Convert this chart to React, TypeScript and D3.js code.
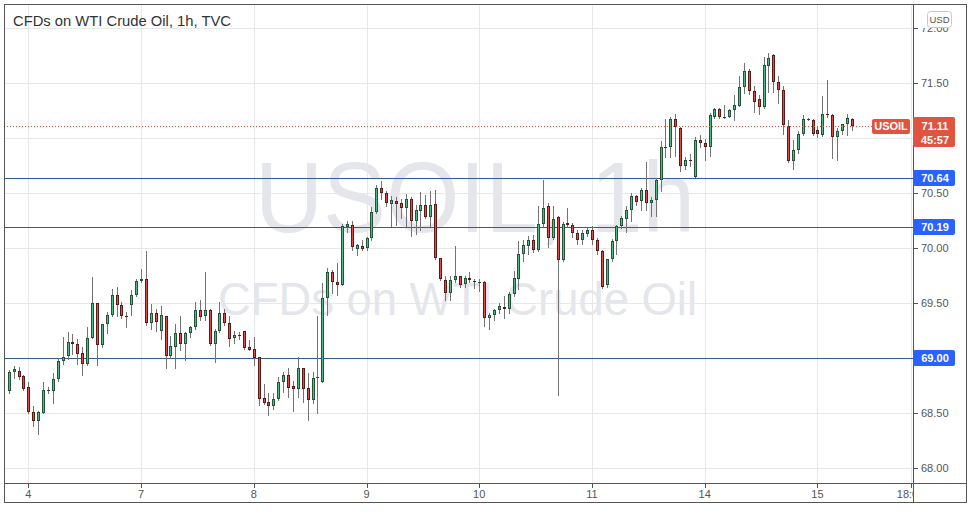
import { useEffect, useRef } from "react";
import * as d3 from "d3";

// hourly candles (index 0 = first visible bar)
const opens = [
  68.70, 68.87, 68.88, 68.84, 68.74, 68.51, 68.43, 68.50, 68.71, 68.70,
  68.81, 68.97, 69.02, 69.15, 69.13, 69.05, 68.95, 69.18, 69.50, 69.12,
  69.31, 69.39, 69.57, 69.48, 69.38, 69.48, 69.57, 69.70, 69.72, 69.32,
  69.41, 69.25, 69.38, 69.02, 69.10, 69.23, 69.13, 69.23, 69.28, 69.44,
  69.38, 69.44, 69.13, 69.25, 69.41, 69.32, 69.18, 69.21, 69.25, 69.10,
  69.08, 69.01, 68.64, 68.60, 68.56, 68.63, 68.78, 68.85, 68.75, 68.72,
  68.91, 68.73, 68.62, 68.83, 68.78, 69.55, 69.78, 69.69, 69.66, 70.19,
  70.21, 69.99, 70.02, 70.00, 70.09, 70.33, 70.55, 70.50, 70.40, 70.43,
  70.41, 70.36, 70.45, 70.25, 70.34, 70.39, 70.28, 70.40, 69.91, 69.71,
  69.59, 69.71, 69.75, 69.67, 69.73, 69.70, 69.69, 69.69, 69.36, 69.39,
  69.44, 69.46, 69.45, 69.58, 69.72, 69.95, 70.02, 70.07, 69.98, 70.22,
  70.38, 70.09, 70.28, 69.89, 70.23, 70.21, 70.14, 70.07, 70.13, 70.16,
  70.07, 69.97, 69.66, 69.90, 70.06, 70.20, 70.26, 70.35, 70.47, 70.43,
  70.53, 70.41, 70.44, 70.62, 70.92, 70.92, 71.17, 71.09, 70.75, 70.80,
  70.65, 70.98, 70.95, 70.92, 71.19, 71.26, 71.19, 71.19, 71.25, 71.29,
  71.46, 71.61, 71.43, 71.35, 71.28, 71.65, 71.75, 71.51, 71.44, 71.11,
  70.79, 70.89, 71.04, 71.17, 71.16, 71.07, 71.03, 71.22, 71.21, 71.01,
  71.06, 71.13, 71.17,
];
const highs = [
  68.89, 68.93, 68.92, 68.85, 68.78, 68.56, 68.52, 68.78, 68.74, 68.86,
  69.00, 69.19, 69.24, 69.22, 69.17, 69.10, 69.28, 69.74, 69.50, 69.31,
  69.42, 69.63, 69.65, 69.51, 69.42, 69.62, 69.72, 69.81, 69.97, 69.49,
  69.45, 69.47, 69.38, 69.20, 69.31, 69.38, 69.24, 69.29, 69.51, 69.53,
  69.78, 69.45, 69.26, 69.51, 69.45, 69.38, 69.25, 69.24, 69.25, 69.16,
  69.19, 69.01, 68.76, 68.68, 68.68, 68.83, 68.87, 68.91, 68.79, 69.01,
  68.91, 68.86, 68.87, 69.38, 69.68, 69.82, 69.80, 69.86, 70.22, 70.25,
  70.25, 70.04, 70.07, 70.10, 70.37, 70.57, 70.61, 70.52, 70.47, 70.46,
  70.45, 70.49, 70.46, 70.39, 70.51, 70.48, 70.52, 70.53, 69.91, 69.75,
  69.75, 70.02, 69.75, 69.75, 69.78, 69.72, 69.72, 69.70, 69.41, 69.45,
  69.50, 69.56, 69.60, 69.79, 70.06, 70.07, 70.11, 70.12, 70.38, 70.62,
  70.41, 70.38, 70.29, 70.24, 70.36, 70.23, 70.16, 70.16, 70.19, 70.20,
  70.09, 69.98, 69.90, 70.08, 70.21, 70.29, 70.38, 70.50, 70.48, 70.55,
  70.78, 70.46, 70.64, 70.97, 71.17, 71.19, 71.22, 71.10, 70.83, 70.85,
  71.01, 71.03, 70.99, 71.23, 71.27, 71.27, 71.30, 71.26, 71.39, 71.56,
  71.68, 71.63, 71.47, 71.39, 71.74, 71.77, 71.76, 71.56, 71.47, 71.16,
  70.98, 71.06, 71.21, 71.18, 71.17, 71.10, 71.38, 71.53, 71.22, 71.09,
  71.13, 71.22, 71.18,
];
const lows = [
  68.68, 68.82, 68.81, 68.71, 68.50, 68.38, 68.31, 68.50, 68.68, 68.59,
  68.79, 68.95, 68.99, 69.04, 68.95, 68.85, 68.94, 69.18, 68.94, 69.10,
  69.23, 69.38, 69.38, 69.36, 69.28, 69.39, 69.56, 69.69, 69.30, 69.26,
  69.25, 69.17, 68.91, 69.00, 68.91, 69.07, 68.98, 69.19, 69.26, 69.35,
  69.35, 69.12, 68.96, 69.24, 69.30, 69.11, 69.14, 69.17, 69.08, 69.07,
  68.94, 68.57, 68.58, 68.48, 68.54, 68.62, 68.69, 68.65, 68.52, 68.65,
  68.60, 68.44, 68.59, 68.50, 68.78, 69.39, 69.59, 69.57, 69.66, 70.15,
  69.98, 69.94, 69.98, 69.98, 70.07, 70.32, 70.45, 70.38, 70.20, 70.21,
  70.27, 70.20, 70.11, 70.13, 70.16, 70.27, 70.20, 69.90, 69.71, 69.53,
  69.53, 69.69, 69.65, 69.65, 69.69, 69.64, 69.61, 69.29, 69.26, 69.35,
  69.41, 69.36, 69.41, 69.56, 69.63, 69.88, 69.95, 69.96, 69.97, 70.20,
  70.01, 70.08, 68.66, 69.88, 70.19, 70.10, 70.04, 70.04, 70.11, 70.04,
  69.95, 69.64, 69.65, 69.88, 69.95, 70.18, 70.15, 70.25, 70.39, 70.35,
  70.35, 70.29, 70.29, 70.52, 70.83, 70.83, 70.84, 70.70, 70.72, 70.75,
  70.65, 70.92, 70.80, 70.84, 71.18, 71.18, 71.18, 71.19, 71.16, 71.29,
  71.41, 71.40, 71.24, 71.22, 71.27, 71.42, 71.42, 71.32, 71.04, 70.78,
  70.72, 70.86, 71.03, 71.16, 71.03, 71.01, 71.02, 71.19, 70.82, 70.80,
  71.04, 71.03, 71.07,
];
const closes = [
  68.87, 68.90, 68.83, 68.72, 68.51, 68.43, 68.51, 68.71, 68.71, 68.81,
  68.97, 69.01, 69.15, 69.13, 69.04, 68.95, 69.18, 69.50, 69.12, 69.31,
  69.39, 69.57, 69.48, 69.38, 69.37, 69.57, 69.70, 69.72, 69.32, 69.41,
  69.33, 69.39, 69.02, 69.11, 69.23, 69.13, 69.23, 69.28, 69.44, 69.37,
  69.44, 69.13, 69.25, 69.41, 69.32, 69.17, 69.21, 69.20, 69.09, 69.07,
  69.00, 68.63, 68.59, 68.56, 68.63, 68.78, 68.85, 68.73, 68.72, 68.91,
  68.72, 68.62, 68.82, 68.83, 69.55, 69.78, 69.69, 69.66, 70.20, 70.22,
  70.01, 70.03, 69.99, 70.09, 70.33, 70.55, 70.50, 70.41, 70.44, 70.40,
  70.36, 70.45, 70.25, 70.35, 70.39, 70.28, 70.39, 69.91, 69.72, 69.59,
  69.71, 69.75, 69.66, 69.73, 69.71, 69.69, 69.69, 69.36, 69.39, 69.44,
  69.47, 69.45, 69.58, 69.73, 69.95, 70.03, 70.07, 69.98, 70.22, 70.36,
  70.09, 70.26, 69.89, 70.22, 70.21, 70.14, 70.07, 70.14, 70.16, 70.07,
  69.97, 69.65, 69.90, 70.06, 70.20, 70.27, 70.35, 70.47, 70.42, 70.53,
  70.41, 70.44, 70.62, 70.92, 70.91, 71.17, 71.10, 70.75, 70.80, 70.79,
  70.98, 70.95, 70.92, 71.21, 71.26, 71.19, 71.19, 71.25, 71.30, 71.46,
  71.61, 71.43, 71.33, 71.28, 71.66, 71.73, 71.51, 71.44, 71.12, 70.79,
  70.89, 71.04, 71.17, 71.17, 71.04, 71.04, 71.22, 71.21, 71.01, 71.06,
  71.13, 71.18, 71.11,
];

// time axis: bar index of each label
const timeTicks = [4, 27, 50, 73, 96, 119, 142, 165, 184];
const timeLabels = ["4", "7", "8", "9", "10", "11", "14", "15", "18:00"];

const priceTicks = [68, 68.5, 69, 69.5, 70, 70.5, 71, 71.5, 72];
const levels = [70.64, 70.19, 69.0];
const lastPrice = 71.11;
const countdown = "45:57";
const symbol = "USOIL";
const title = "CFDs on WTI Crude Oil, 1h, TVC";

const W = 973;
const H = 516;
const FONT = "'Liberation Sans', Arial, sans-serif";

const App = () => {
  const svgRef = useRef<SVGSVGElement | null>(null);

  useEffect(() => {
    if (!svgRef.current) return;
    const svg = d3.select(svgRef.current);
    svg.selectAll("*").remove();

    const left = 4;
    const top = 4;
    const right = 966;
    const bottom = 502;
    const plotRight = 913;
    const plotBottom = 483;

    const x = d3.scaleLinear().domain([-0.96, 184.5]).range([left, plotRight]);
    const y = d3.scaleLinear().domain([67.864, 72.218]).range([plotBottom, top]);
    const fmt = d3.format(".2f");
    const py = (v: number) => Math.round(y(v)) + 0.5;

    svg.append("rect").attr("width", W).attr("height", H).attr("fill", "#fff");

    const defs = svg.append("defs");
    defs
      .append("clipPath")
      .attr("id", "plotClip")
      .append("rect")
      .attr("x", left)
      .attr("y", top)
      .attr("width", plotRight - left)
      .attr("height", plotBottom - top);
    defs
      .append("clipPath")
      .attr("id", "timeClip")
      .append("rect")
      .attr("x", left)
      .attr("y", plotBottom)
      .attr("width", plotRight - left)
      .attr("height", bottom - plotBottom);
    // price labels peek out from under the currency button
    defs
      .append("clipPath")
      .attr("id", "priceClip")
      .append("rect")
      .attr("x", plotRight)
      .attr("y", 28)
      .attr("width", right - plotRight)
      .attr("height", plotBottom - 28);

    const plot = svg.append("g").attr("clip-path", "url(#plotClip)");

    // grid
    plot
      .selectAll("line.vgrid")
      .data(timeTicks)
      .join("line")
      .attr("class", "vgrid")
      .attr("x1", (d) => Math.round(x(d)) + 0.5)
      .attr("x2", (d) => Math.round(x(d)) + 0.5)
      .attr("y1", top)
      .attr("y2", plotBottom)
      .attr("stroke", "#e8e8ea");
    plot
      .selectAll("line.hgrid")
      .data(priceTicks)
      .join("line")
      .attr("class", "hgrid")
      .attr("x1", left)
      .attr("x2", plotRight)
      .attr("y1", (d) => py(d))
      .attr("y2", (d) => py(d))
      .attr("stroke", "#e8e8ea");

    // watermark
    plot
      .append("text")
      .attr("x", 255)
      .attr("y", 232)
      .attr("font-family", FONT)
      .attr("font-size", 100)
      .attr("fill", "#e4e6eb")
      .attr("textLength", 440)
      .attr("lengthAdjust", "spacingAndGlyphs")
      .text(`${symbol}, 1h`);
    plot
      .append("text")
      .attr("x", 218)
      .attr("y", 315)
      .attr("font-family", FONT)
      .attr("font-size", 46)
      .attr("fill", "#e4e6eb")
      .attr("textLength", 479)
      .attr("lengthAdjust", "spacingAndGlyphs")
      .text("CFDs on WTI Crude Oil");

    // horizontal levels
    plot
      .selectAll("line.level")
      .data(levels)
      .join("line")
      .attr("class", "level")
      .attr("x1", left)
      .attr("x2", plotRight)
      .attr("y1", (d) => py(d))
      .attr("y2", (d) => py(d))
      .attr("stroke", "#2f5d98");

    // candles
    const idx = d3.range(opens.length);
    const up = (i: number) => closes[i] >= opens[i];
    const cx = (i: number) => Math.round(x(i));
    const candles = plot.append("g");
    candles
      .selectAll("line.wick")
      .data(idx)
      .join("line")
      .attr("class", "wick")
      .attr("x1", (i) => cx(i) + 0.5)
      .attr("x2", (i) => cx(i) + 0.5)
      .attr("y1", (i) => Math.round(y(highs[i])))
      .attr("y2", (i) => Math.round(y(lows[i])) + 1)
      .attr("stroke", "#737375");
    candles
      .selectAll("rect.body")
      .data(idx)
      .join("rect")
      .attr("class", "body")
      .each(function (i) {
        const t = Math.round(y(Math.max(opens[i], closes[i])));
        const b = Math.round(y(Math.min(opens[i], closes[i])));
        const h = Math.max(b - t, 1);
        const border = up(i) ? "#225437" : "#5b1a13";
        const fill = up(i) ? "#53b987" : "#e04a4a";
        const r = d3.select(this);
        if (h <= 2) {
          r.attr("x", cx(i) - 1).attr("y", t).attr("width", 3).attr("height", h).attr("fill", border);
        } else {
          r.attr("x", cx(i) - 0.5)
            .attr("y", t + 0.5)
            .attr("width", 2)
            .attr("height", h - 1)
            .attr("fill", fill)
            .attr("stroke", border);
        }
      });

    // last price line
    plot
      .append("line")
      .attr("x1", left)
      .attr("x2", 872)
      .attr("y1", py(lastPrice))
      .attr("y2", py(lastPrice))
      .attr("stroke", "#e0533f")
      .attr("stroke-dasharray", "1,2");

    // axis lines
    svg
      .append("line")
      .attr("x1", plotRight + 0.5)
      .attr("x2", plotRight + 0.5)
      .attr("y1", top)
      .attr("y2", bottom)
      .attr("stroke", "#555");
    svg
      .append("line")
      .attr("x1", left)
      .attr("x2", right)
      .attr("y1", plotBottom + 0.5)
      .attr("y2", plotBottom + 0.5)
      .attr("stroke", "#555");

    // price axis (labels under a badge are hidden, as on the chart)
    const ly = Math.round(y(lastPrice));
    const covered = (p: number) =>
      Math.abs(y(p) - (ly + 6)) < 17 || levels.some((l) => Math.abs(y(l) - y(p)) < 10);
    const shown = priceTicks.filter((p) => !covered(p));
    const pa = svg.append("g");
    pa.selectAll("line.ptick")
      .data(priceTicks)
      .join("line")
      .attr("class", "ptick")
      .attr("x1", plotRight)
      .attr("x2", plotRight + 5)
      .attr("y1", (d) => py(d))
      .attr("y2", (d) => py(d))
      .attr("stroke", "#555");
    pa.append("g")
      .attr("clip-path", "url(#priceClip)")
      .selectAll("text")
      .data(shown)
      .join("text")
      .attr("x", 921)
      .attr("y", (d) => y(d) + 4)
      .attr("font-family", FONT)
      .attr("font-size", 11)
      .attr("fill", "#555")
      .text((d) => fmt(d));

    // time axis
    const ta = svg.append("g").attr("clip-path", "url(#timeClip)");
    ta.selectAll("line")
      .data(timeTicks)
      .join("line")
      .attr("x1", (d) => Math.round(x(d)) + 0.5)
      .attr("x2", (d) => Math.round(x(d)) + 0.5)
      .attr("y1", plotBottom)
      .attr("y2", plotBottom + 5)
      .attr("stroke", "#555");
    ta.selectAll("text")
      .data(timeTicks)
      .join("text")
      .attr("x", (d) => x(d))
      .attr("y", 498)
      .attr("text-anchor", "middle")
      .attr("font-family", FONT)
      .attr("font-size", 11)
      .attr("fill", "#555")
      .text((d, i) => timeLabels[i]);

    // level badges
    const lb = svg.append("g");
    lb.selectAll("rect")
      .data(levels)
      .join("rect")
      .attr("x", plotRight)
      .attr("y", (d) => Math.round(y(d)) - 8)
      .attr("width", 42)
      .attr("height", 16)
      .attr("rx", 2)
      .attr("fill", "#2962ff");
    lb.selectAll("text")
      .data(levels)
      .join("text")
      .attr("x", 935)
      .attr("y", (d) => Math.round(y(d)) + 4)
      .attr("text-anchor", "middle")
      .attr("font-family", FONT)
      .attr("font-size", 11)
      .attr("font-weight", "bold")
      .attr("fill", "#fff")
      .text((d) => fmt(d));

    // last price badges
    svg
      .append("rect")
      .attr("x", plotRight)
      .attr("y", ly - 9)
      .attr("width", 42)
      .attr("height", 30)
      .attr("rx", 2)
      .attr("fill", "#e0533f");
    svg
      .append("text")
      .attr("x", 935)
      .attr("y", ly + 4)
      .attr("text-anchor", "middle")
      .attr("font-family", FONT)
      .attr("font-size", 11)
      .attr("font-weight", "bold")
      .attr("fill", "#fff")
      .text(fmt(lastPrice));
    svg
      .append("text")
      .attr("x", 935)
      .attr("y", ly + 18)
      .attr("text-anchor", "middle")
      .attr("font-family", FONT)
      .attr("font-size", 11)
      .attr("font-weight", "bold")
      .attr("fill", "#fff")
      .text(countdown);
    svg
      .append("rect")
      .attr("x", 872)
      .attr("y", ly - 7)
      .attr("width", 38)
      .attr("height", 15)
      .attr("rx", 2)
      .attr("fill", "#e0533f");
    svg
      .append("text")
      .attr("x", 891)
      .attr("y", ly + 4)
      .attr("text-anchor", "middle")
      .attr("font-family", FONT)
      .attr("font-size", 11)
      .attr("font-weight", "bold")
      .attr("fill", "#fff")
      .text(symbol);

    // currency button
    svg
      .append("rect")
      .attr("x", 927.5)
      .attr("y", 11.5)
      .attr("width", 24)
      .attr("height", 16)
      .attr("rx", 3)
      .attr("fill", "#fff")
      .attr("stroke", "#c9c9c9");
    svg
      .append("text")
      .attr("x", 939.5)
      .attr("y", 23)
      .attr("text-anchor", "middle")
      .attr("font-family", FONT)
      .attr("font-size", 9.5)
      .attr("fill", "#555")
      .text("USD");

    // title
    svg
      .append("text")
      .attr("x", 13)
      .attr("y", 26)
      .attr("font-family", FONT)
      .attr("font-size", 14)
      .attr("fill", "#333")
      .attr("textLength", 218)
      .attr("lengthAdjust", "spacingAndGlyphs")
      .text(title);

    svg
      .append("rect")
      .attr("x", left + 0.5)
      .attr("y", top + 0.5)
      .attr("width", right - left)
      .attr("height", bottom - top)
      .attr("fill", "none")
      .attr("stroke", "#555");
  }, []);

  return (
    <svg
      ref={svgRef}
      width={W}
      height={H}
      style={{ position: "absolute", left: 0, top: 0 }}
    ></svg>
  );
};

export default App;
